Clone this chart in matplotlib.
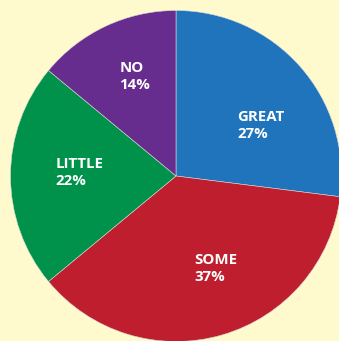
import matplotlib
matplotlib.use("Agg")
import matplotlib.pyplot as plt

labels = ["GREAT", "SOME", "LITTLE", "NO"]
values = [27, 37, 22, 14]
colors = ["#1F74BB", "#BE1E2D", "#00924A", "#662D8F"]
bg = "#FFFACD"

W, H = 339, 341
fig = plt.figure(figsize=(W / 100, H / 100), dpi=100, facecolor=bg)
ax = fig.add_axes([0, 0, 1, 1])
ax.set_facecolor(bg)

cx, cy, r = 176, H - 176, 165.5
ax.pie(values, colors=colors, startangle=90, counterclock=False,
       radius=r, center=(cx, cy), frame=True,
       wedgeprops=dict(edgecolor="#d8d8d8", linewidth=0.4))
ax.set_xlim(0, W)
ax.set_ylim(0, H)
ax.set_aspect("equal")
ax.axis("off")

# label anchor positions (pixel coords: left x, baseline y of first line)
label_pos = [(237.3, 120.7), (194.3, 264.0), (55.7, 168.4), (119.3, 71.7)]
for lab, v, (px, py) in zip(labels, values, label_pos):
    kw = dict(color="white", fontsize=10.8, fontweight="bold",
              family=["Open Sans", "DejaVu Sans"], ha="left", va="baseline")
    ax.text(px, H - py, lab, **kw)
    ax.text(px, H - py - 17, f"{v}%", **kw)

fig.savefig("out.png", dpi=100, facecolor=bg)
